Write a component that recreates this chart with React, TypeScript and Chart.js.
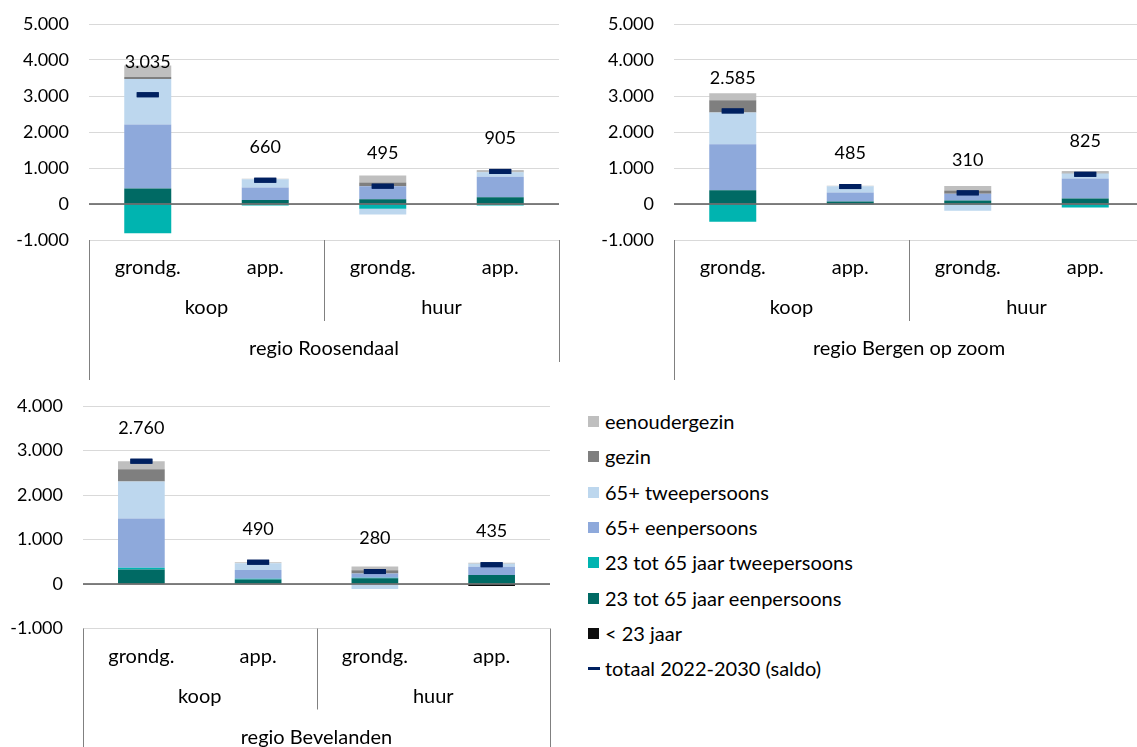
import React, { useEffect, useRef } from 'react';
import { Chart, registerables } from 'chart.js';
Chart.register(...registerables);

// ---------- data ----------
const categories = ['grondg.', 'app.', 'grondg.', 'app.'];
const groups = ['koop', 'huur'];
const seriesNames = [
  '< 23 jaar',
  '23 tot 65 jaar eenpersoons',
  '23 tot 65 jaar tweepersoons',
  '65+ eenpersoons',
  '65+ tweepersoons',
  'gezin',
  'eenoudergezin',
];
const seriesColors = ['#0D0D0D', '#006A64', '#00B4B0', '#8EA9DB', '#BDD7EE', '#7F7F7F', '#BFBFBF'];
const totalName = 'totaal 2022-2030 (saldo)';
const totalColor = '#002060';

// regio Roosendaal
const roosLt23 = [0, 0, 0, 0];
const roosEen23 = [430, 110, 130, 185];
const roosTwee23 = [-815, -40, -135, -40];
const roosEen65 = [1775, 350, 360, 575];
const roosTwee65 = [1270, 230, -160, 120];
const roosGezin = [50, 0, 110, 15];
const roosEenouder = [325, 10, 190, 50];
const roosTotaal = [3035, 660, 495, 905];

// regio Bergen op zoom
const bozLt23 = [0, 0, 0, 0];
const bozEen23 = [380, 70, 100, 155];
const bozTwee23 = [-490, -20, -20, -95];
const bozEen65 = [1280, 250, 185, 555];
const bozTwee65 = [880, 175, -170, 140];
const bozGezin = [340, 0, 90, 20];
const bozEenouder = [195, 10, 125, 50];
const bozTotaal = [2585, 485, 310, 825];

// regio Bevelanden
const bevLt23 = [0, 0, 0, -45];
const bevEen23 = [325, 100, 130, 200];
const bevTwee23 = [40, 20, 10, 0];
const bevEen65 = [1105, 195, 95, 185];
const bevTwee65 = [835, 150, -115, 70];
const bevGezin = [275, 0, 75, 0];
const bevEenouder = [180, 25, 85, 25];
const bevTotaal = [2760, 490, 280, 435];

const yTicksTop = [-1000, 0, 1000, 2000, 3000, 4000, 5000];
const yTicksBottom = [-1000, 0, 1000, 2000, 3000, 4000];

// ---------- helpers ----------
const FONT = 'Lato, "Open Sans", sans-serif';
const NUM_SIZE = 18;
const TEXT_SIZE = 20;
const fmt = (v: number) => {
  const s = Math.abs(Math.round(v)).toString().replace(/\B(?=(\d{3})+(?!\d))/g, '.');
  return (v < 0 ? '-' : '') + s;
};

type PanelCfg = {
  region: string;
  series: number[][];
  totals: number[];
  ticks: number[];
  canvas: { left: number; top: number; width: number; height: number };
  area: { left: number; top: number; right: number; bottom: number };
};

const panels: PanelCfg[] = [
  {
    region: 'regio Roosendaal',
    series: [roosLt23, roosEen23, roosTwee23, roosEen65, roosTwee65, roosGezin, roosEenouder],
    totals: roosTotaal,
    ticks: yTicksTop,
    canvas: { left: 0, top: 0, width: 580, height: 380 },
    area: { left: 89, top: 24, right: 559, bottom: 240 },
  },
  {
    region: 'regio Bergen op zoom',
    series: [bozLt23, bozEen23, bozTwee23, bozEen65, bozTwee65, bozGezin, bozEenouder],
    totals: bozTotaal,
    ticks: yTicksTop,
    canvas: { left: 580, top: 0, width: 580, height: 380 },
    area: { left: 674, top: 24, right: 1148, bottom: 240 },
  },
  {
    region: 'regio Bevelanden',
    series: [bevLt23, bevEen23, bevTwee23, bevEen65, bevTwee65, bevGezin, bevEenouder],
    totals: bevTotaal,
    ticks: yTicksBottom,
    canvas: { left: 0, top: 385, width: 570, height: 380 },
    area: { left: 83, top: 406, right: 550, bottom: 628.5 },
  },
];

function makeChart(canvas: HTMLCanvasElement, cfg: PanelCfg) {
  const c = cfg.canvas;
  const a = cfg.area;
  const yWidth = a.left - c.left;
  const totIndex = seriesNames.length;
  const datasets: any[] = seriesNames.map((name, i) => ({
    type: 'bar',
    label: name,
    data: cfg.series[i],
    backgroundColor: seriesColors[i],
    borderWidth: 0,
    stack: 'bars',
    order: 1,
    barPercentage: 0.4,
    categoryPercentage: 1,
  }));
  datasets.push({
    type: 'line',
    label: totalName,
    data: cfg.totals,
    showLine: false,
    stack: 'tot',
    order: 0,
    pointStyle: 'line',
    pointRadius: 11,
    pointBorderWidth: 5,
    pointBorderColor: totalColor,
    pointBackgroundColor: totalColor,
    borderColor: totalColor,
  });

  const tablePlugin = {
    id: 'catTable',
    afterDatasetsDraw(chart: any) {
      const { ctx, chartArea } = chart;
      const y0 = chart.scales.y.getPixelForValue(0);
      ctx.save();
      ctx.strokeStyle = '#595959';
      ctx.lineWidth = 1.5;
      ctx.beginPath();
      ctx.moveTo(chartArea.left, y0);
      ctx.lineTo(chartArea.right, y0);
      ctx.stroke();
      const meta = chart.getDatasetMeta(totIndex);
      ctx.strokeStyle = totalColor;
      ctx.lineWidth = 5;
      meta.data.forEach((pt: any) => {
        ctx.beginPath();
        ctx.moveTo(pt.x - 11, pt.y);
        ctx.lineTo(pt.x + 11, pt.y);
        ctx.stroke();
      });
      ctx.fillStyle = '#000';
      ctx.font = NUM_SIZE + 'px ' + FONT;
      ctx.textAlign = 'center';
      ctx.textBaseline = 'middle';
      meta.data.forEach((pt: any, i: number) => {
        ctx.fillText(fmt(cfg.totals[i]), pt.x, pt.y - 33);
      });
      ctx.restore();
    },
    afterDraw(chart: any) {
      const { ctx, chartArea } = chart;
      const b = chartArea.bottom;
      const xs = chart.getDatasetMeta(0).data.map((e: any) => e.x);
      const mid = (xs[1] + xs[2]) / 2;
      ctx.save();
      ctx.strokeStyle = '#808080';
      ctx.lineWidth = 1;
      const vline = (x: number, len: number) => {
        const xx = Math.round(x) + 0.5;
        ctx.beginPath();
        ctx.moveTo(xx, b);
        ctx.lineTo(xx, b + len);
        ctx.stroke();
      };
      vline(chartArea.left, 140);
      vline(mid, 81);
      vline(chartArea.right, 122);
      ctx.fillStyle = '#000';
      ctx.font = TEXT_SIZE + 'px ' + FONT;
      ctx.textAlign = 'center';
      ctx.textBaseline = 'middle';
      categories.forEach((lab, i) => ctx.fillText(lab, xs[i], b + 28));
      ctx.fillText(groups[0], (chartArea.left + mid) / 2, b + 68);
      ctx.fillText(groups[1], (mid + chartArea.right) / 2, b + 68);
      ctx.fillText(cfg.region, (chartArea.left + chartArea.right) / 2, b + 109);
      ctx.restore();
    },
  };

  const tTop = a.top - c.top;
  const tBottom = a.bottom - c.top;
  const tRight = a.right - c.left;
  const padding = {
    left: 0,
    top: tTop,
    right: c.width - tRight,
    bottom: c.height - tBottom,
  };

  const chart: any = new Chart(canvas, {
    type: 'bar',
    data: { labels: categories, datasets },
    options: {
      responsive: false,
      animation: false,
      events: [],
      layout: { padding },
      plugins: { legend: { display: false }, tooltip: { enabled: false } },
      scales: {
        x: { display: false, stacked: true },
        y: {
          stacked: true,
          min: cfg.ticks[0],
          max: cfg.ticks[cfg.ticks.length - 1],
          afterFit: (scale: any) => {
            scale.width = yWidth;
            scale.paddingTop = 0;
            scale.paddingBottom = 0;
          },
          afterBuildTicks: (scale: any) => {
            scale.ticks = cfg.ticks.map((v) => ({ value: v }));
          },
          border: { display: false },
          grid: {
            drawTicks: false,
            color: '#D9D9D9',
            lineWidth: 1,
          },
          ticks: {
            padding: 20,
            color: '#000',
            font: { family: FONT, size: NUM_SIZE },
            callback: (v: any) => fmt(Number(v)),
          },
        },
      },
    } as any,
    plugins: [tablePlugin],
  } as any);

  // correct the plot area so it lands exactly on the target box
  for (let k = 0; k < 3; k++) {
    const ca = chart.chartArea;
    const dTop = ca.top - tTop;
    const dBottom = ca.bottom - tBottom;
    const dRight = ca.right - tRight;
    if (Math.abs(dTop) < 0.3 && Math.abs(dBottom) < 0.3 && Math.abs(dRight) < 0.3) break;
    padding.top = Math.max(0, padding.top - dTop);
    padding.bottom = Math.max(0, padding.bottom + dBottom);
    padding.right = Math.max(0, padding.right + dRight);
    chart.options.layout.padding = { ...padding };
    chart.update();
  }
  return chart;
}

function Panel({ cfg }: { cfg: PanelCfg }) {
  const ref = useRef<HTMLCanvasElement>(null);
  useEffect(() => {
    let chart: any = null;
    let cancelled = false;
    const create = () => {
      if (cancelled || !ref.current) return;
      chart = makeChart(ref.current, cfg);
    };
    const f: any = (document as any).fonts;
    if (f && f.load) {
      f.load('18px Lato').then(create, create);
    } else create();
    return () => {
      cancelled = true;
      if (chart) chart.destroy();
    };
  }, [cfg]);
  const c = cfg.canvas;
  return (
    <canvas
      ref={ref}
      width={c.width}
      height={c.height}
      style={{ position: 'absolute', left: c.left, top: c.top, width: c.width, height: c.height, display: 'block' }}
    />
  );
}

const legendOrder = [6, 5, 4, 3, 2, 1, 0];
const legendY = [421, 456, 492, 527, 562, 598, 633, 668];

const legendRow = (top: number): React.CSSProperties => ({
  position: 'absolute',
  left: 588,
  top: top - 13,
  height: 26,
  display: 'flex',
  alignItems: 'center',
  fontSize: TEXT_SIZE,
  color: '#000',
  whiteSpace: 'nowrap',
});

export default function App() {
  return (
    <div
      style={{
        position: 'fixed',
        left: 0,
        top: 0,
        width: 1137,
        height: 747,
        overflow: 'hidden',
        background: '#fff',
        fontFamily: FONT,
      }}
    >
      {panels.map((p) => (
        <Panel key={p.region} cfg={p} />
      ))}
      {legendOrder.map((si, k) => (
        <div key={seriesNames[si]} style={legendRow(legendY[k])}>
          <span style={{ display: 'inline-block', width: 11, height: 11, background: seriesColors[si], marginRight: 6 }} />
          <span>{seriesNames[si]}</span>
        </div>
      ))}
      <div style={legendRow(legendY[7])}>
        <span style={{ display: 'inline-block', width: 12, height: 3, background: totalColor, marginRight: 5 }} />
        <span>{totalName}</span>
      </div>
    </div>
  );
}
